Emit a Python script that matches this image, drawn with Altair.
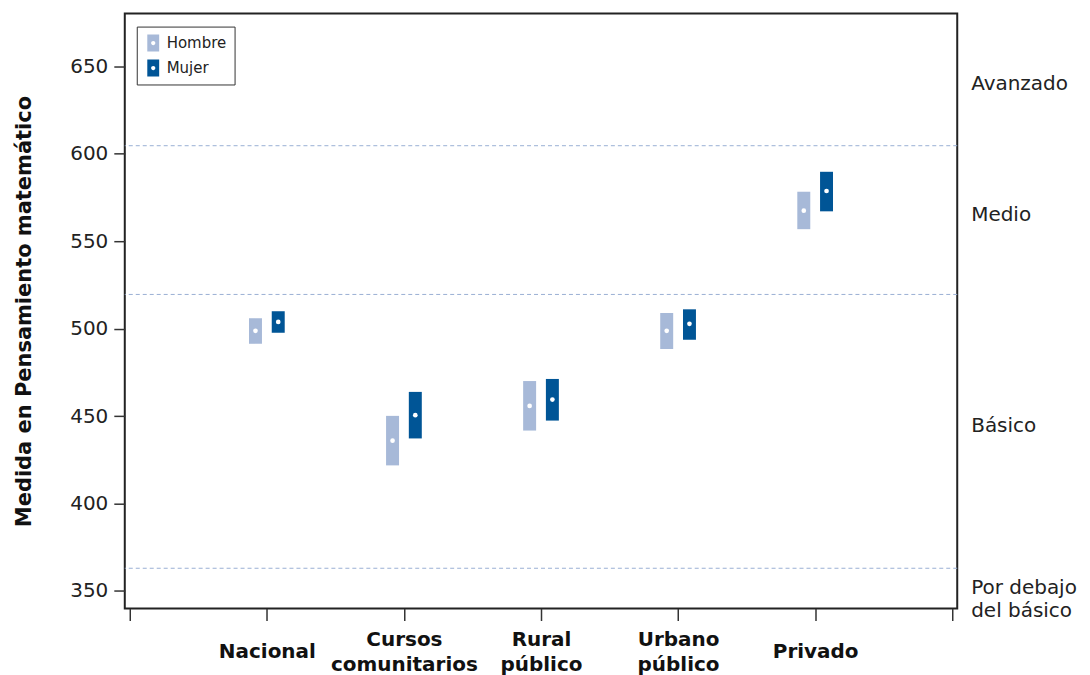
import altair as alt
import pandas as pd

categories = ["Nacional", "Cursos comunitarios", "Rural público", "Urbano público", "Privado"]
hombre_low = [491.3, 421.8, 441.7, 488.3, 556.8]
hombre_mid = [498.7, 435.9, 455.8, 498.7, 567.4]
hombre_high = [505.9, 450.1, 470.0, 508.9, 578.2]
mujer_low = [497.6, 437.2, 447.4, 493.6, 567.0]
mujer_mid = [503.8, 450.5, 459.4, 502.7, 578.6]
mujer_high = [509.9, 463.8, 471.2, 511.0, 589.6]

cutoffs = [363.0, 519.5, 604.5]
level_names = ["Avanzado", "Medio", "Básico", "Por debajo\ndel básico"]
level_pos = [640, 565, 444.5, 352]

sexes = ["Hombre", "Mujer"]
colors = ["#A7B9D8", "#005596"]
offsets = {"Hombre": -0.083, "Mujer": 0.083}

rows = []
for i, c in enumerate(categories):
    for s, lo, mi, hi in (("Hombre", hombre_low, hombre_mid, hombre_high),
                          ("Mujer", mujer_low, mujer_mid, mujer_high)):
        rows.append({"cat": c, "idx": i + 1, "Sexo": s, "low": lo[i], "mid": mi[i],
                     "high": hi[i], "pos": i + 1 + offsets[s]})
df = pd.DataFrame(rows)

W, H = 834, 596
font = "DejaVu Sans"

label_arr = "[" + ",".join(
    ["''"] + ["[" + ",".join("'" + w + "'" for w in c.split(" ")) + "]" for c in categories] + ["''"]
) + "]"
multi_idx = [i + 1 for i, c in enumerate(categories) if " " in c]
multi_test = " || ".join(f"datum.value == {k}" for k in multi_idx)

xscale = alt.Scale(domain=[0, 6], nice=False, zero=False)
yscale = alt.Scale(domain=[340, 680], nice=False, zero=False)

xaxis = alt.Axis(values=list(range(0, 7)), labelExpr=label_arr + "[datum.value]",
                 grid=False, domain=False, tickSize=12, tickColor="#333", tickWidth=1.5,
                 labelFont=font, labelFontSize=20, labelFontWeight="bold", labelColor="#111",
                 labelBaseline="middle", labelLineHeight=25,
                 labelPadding={"condition": {"test": multi_test, "value": 19}, "value": 31},
                 title=None, labelOverlap=False, labelBound=False, labelFlush=False)
yaxis = alt.Axis(values=[350, 400, 450, 500, 550, 600, 650], grid=False, domain=False,
                 tickSize=11, tickColor="#333", tickWidth=1.5,
                 labelFont=font, labelFontSize=20, labelColor="#222", labelPadding=6,
                 title="Medida en Pensamiento matemático", titleFont=font, titleFontSize=21,
                 titleFontWeight="bold", titleColor="#111", titlePadding=35)

sym_path = ("M-0.7,-1H0.7V1H-0.7Z "
            "M0.25,0A0.25,0.25 0 1 0 -0.25,0A0.25,0.25 0 1 0 0.25,0Z")

base = alt.Chart(df)

bars = base.mark_bar(size=13, orient="vertical").encode(
    x=alt.X("pos:Q", scale=xscale, axis=xaxis),
    y=alt.Y("low:Q", scale=yscale, axis=yaxis),
    y2="high:Q",
    color=alt.Color("Sexo:N", scale=alt.Scale(domain=sexes, range=colors),
                    legend=alt.Legend(title=None, orient="none", legendX=12, legendY=13,
                                      strokeColor="#333", fillColor="white", padding=8,
                                      symbolType=sym_path, symbolSize=289,
                                      symbolStrokeWidth=0, rowPadding=8,
                                      labelFont=font, labelFontSize=15, labelColor="#222",
                                      labelOffset=5)),
)

points = base.mark_point(filled=True, color="white", size=22, opacity=1).encode(
    x="pos:Q", y="mid:Q"
)

cut_df = pd.DataFrame({"v": cutoffs})
rules = alt.Chart(cut_df).mark_rule(color="#9AB0D4", strokeWidth=1, strokeDash=[4, 3]).encode(
    y="v:Q"
)

lev_df = pd.DataFrame({"name": level_names, "v": level_pos})
levels = alt.Chart(lev_df).mark_text(align="left", baseline="middle", dx=19, font=font,
                                     fontSize=20, color="#222", lineBreak="\n",
                                     lineHeight=24).encode(
    x=alt.datum(6), y="v:Q", text="name:N"
)

chart = alt.layer(rules, bars, points, levels).properties(
    width=W, height=H, background="white"
).configure_view(stroke="#222", strokeWidth=2)

chart.save("out.html", embed_options={"renderer": "svg", "actions": False})
